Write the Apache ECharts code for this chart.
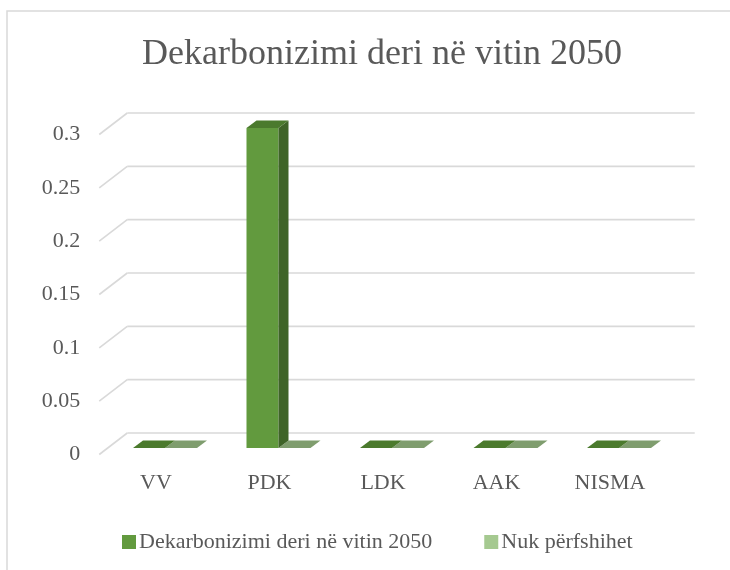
<!DOCTYPE html>
<html><head><meta charset="utf-8">
<script src="https://cdn.jsdelivr.net/npm/echarts@6/dist/echarts.min.js"></script>
<style>html,body{margin:0;padding:0;background:#fff}#c{width:730px;height:570px}</style>
</head><body><div id="c"></div>
<script>
const categories = ['VV', 'PDK', 'LDK', 'AAK', 'NISMA'];
const seriesNames = ['Dekarbonizimi deri në vitin 2050', 'Nuk përfshihet'];
const dekarbonizimi = [0, 0.3, 0, 0, 0];
const nukPerfshihet = [0, 0, 0, 0, 0];
const yTicks = [0, 0.05, 0.1, 0.15, 0.2, 0.25, 0.3];

const FONT = '"Liberation Serif", "DejaVu Serif", serif';
const TXT = '#595959';
// pseudo-3D geometry (pixel offsets from the front plane)
const BAR = [9, -6.5], BACK = [28, -21.5], DEPTH = [10, -7.5];
const BAR_FRAC = 0.282;
const palettes = [
  {legend: '#629a3e', front: '#629a3e', side: '#3f6428', top: '#4b7a2d'},
  {legend: '#a5c990', front: '#a5c990', side: '#6c8a5b', top: '#7f9d6e'}
];

function wallItem(params, api) {
  const cs = params.coordSys;
  const v = api.value(1);
  const y = api.coord([0, v])[1];
  const xl = cs.x;
  const xr = cs.x + cs.width;
  const style = {stroke: '#d9d9d9', lineWidth: 1.6};
  return {type: 'group', children: [
    {type: 'line', shape: {x1: xl + BACK[0], y1: y + BACK[1], x2: xr + BACK[0], y2: y + BACK[1]}, style: style},
    {type: 'line', shape: {x1: xl, y1: y, x2: xl + BACK[0], y2: y + BACK[1]}, style: style}
  ]};
}

function makeBarRender(si) {
  const pal = palettes[si];
  return function (params, api) {
    const idx = api.value(0);
    const v = api.value(1);
    const c = api.coord([idx, v]);
    const base = api.coord([idx, 0]);
    const band = api.size([1, 0])[0];
    const w = band * BAR_FRAC;
    const cx = base[0] + BAR[0];
    const x0 = si === 0 ? cx - w : cx;
    const x1 = x0 + w;
    const yt = c[1] + BAR[1], yb = base[1] + BAR[1];
    const dx = DEPTH[0], dy = DEPTH[1];
    const children = [];
    if (yb - yt > 0.5) {
      children.push({type: 'rect', shape: {x: x0, y: yt, width: w, height: yb - yt}, style: {fill: pal.front}});
      children.push({type: 'polygon', shape: {points: [[x1, yb], [x1 + dx, yb + dy], [x1 + dx, yt + dy], [x1, yt]]}, style: {fill: pal.side}});
    }
    children.push({type: 'polygon', shape: {points: [[x0, yt], [x1, yt], [x1 + dx, yt + dy], [x0 + dx, yt + dy]]}, style: {fill: pal.top}});
    return {type: 'group', children: children};
  };
}

const chart = echarts.init(document.getElementById('c'), null, {renderer: 'canvas'});
chart.setOption({
  animation: false,
  backgroundColor: '#fff',
  graphic: [{type: 'rect', shape: {x: 7, y: 11, width: 740, height: 580}, style: {fill: 'none', stroke: '#d9d9d9', lineWidth: 1.5}, z: -10}],
  title: {
    text: 'Dekarbonizimi deri në vitin 2050',
    left: 377, top: 32, textAlign: 'center',
    textStyle: {fontFamily: FONT, fontSize: 36, fontWeight: 'normal', color: TXT}
  },
  legend: {
    left: 117, top: 526, icon: 'rect', itemWidth: 14, itemHeight: 14, itemGap: 52,
    textStyle: {fontFamily: FONT, fontSize: 22, color: TXT, padding: [0, 0, 0, -2]},
    data: seriesNames
  },
  grid: {left: 99.25, right: 63.25, top: 134.5, bottom: 115.5},
  xAxis: {
    type: 'category', data: categories,
    axisLine: {show: false}, axisTick: {show: false}, splitLine: {show: false},
    axisLabel: {fontFamily: FONT, fontSize: 22, color: TXT, margin: 18}
  },
  yAxis: {
    type: 'value', min: 0, max: 0.3, interval: 0.05,
    axisLine: {show: false}, axisTick: {show: false}, splitLine: {show: false},
    axisLabel: {fontFamily: FONT, fontSize: 22, color: TXT, margin: 19}
  },
  series: [
    {type: 'custom', name: '_wall', renderItem: wallItem, data: yTicks.map(t => [0, t]), encode: {x: 0, y: 1}, z: 1, silent: true},
    {type: 'custom', name: seriesNames[0], renderItem: makeBarRender(0), itemStyle: {color: palettes[0].legend},
      data: dekarbonizimi.map((v, i) => [i, v]), encode: {x: 0, y: 1}, z: 3},
    {type: 'custom', name: seriesNames[1], renderItem: makeBarRender(1), itemStyle: {color: palettes[1].legend},
      data: nukPerfshihet.map((v, i) => [i, v]), encode: {x: 0, y: 1}, z: 2}
  ]
});
</script></body></html>
